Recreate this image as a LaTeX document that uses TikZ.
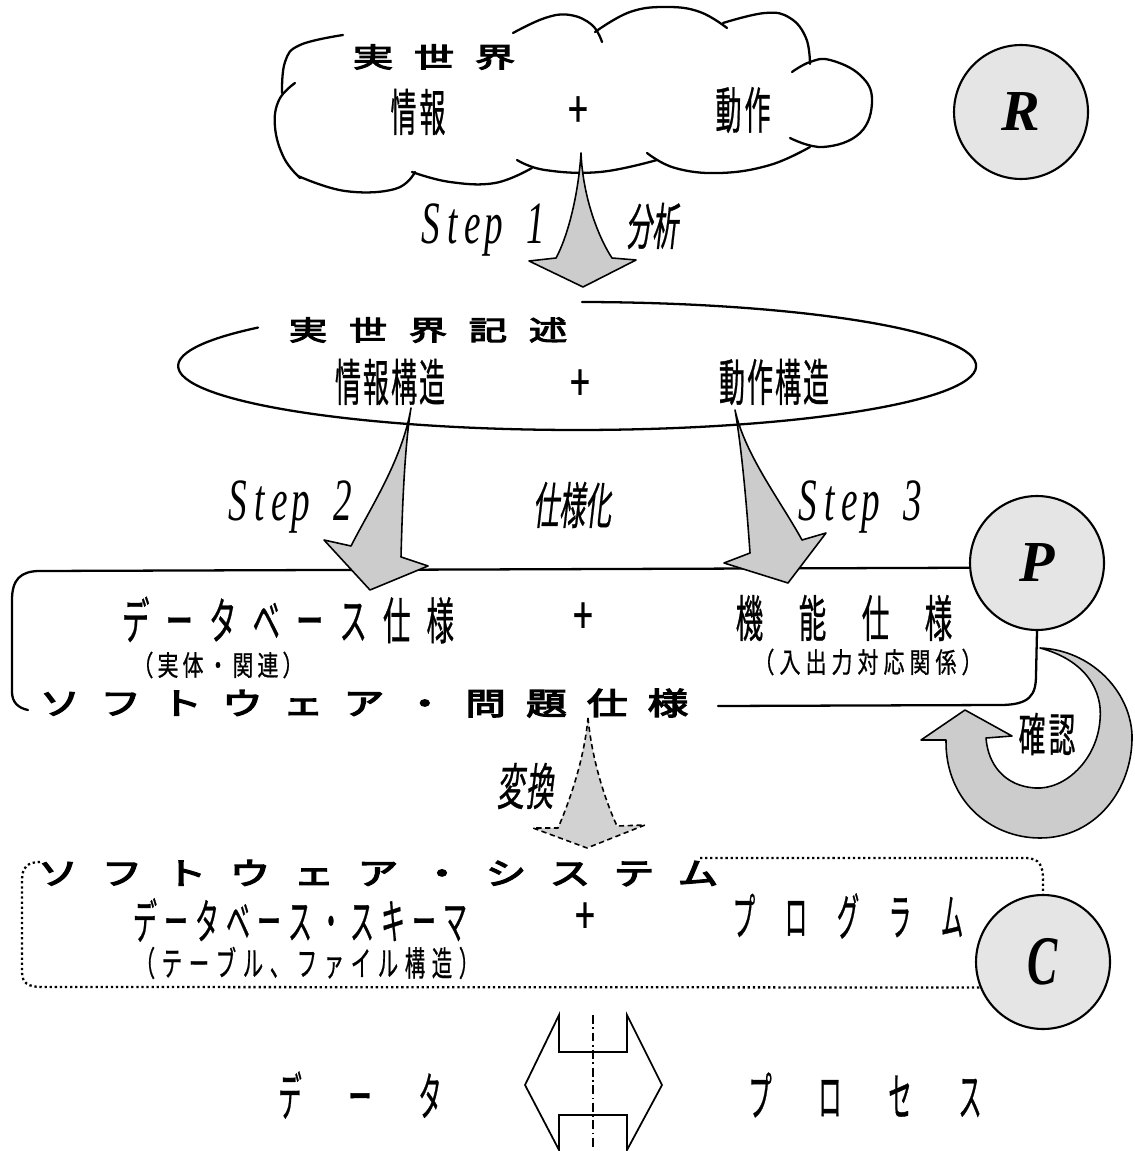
\documentclass[tikz,border=0pt]{standalone}
\usepackage{fontspec}
\usepackage{graphicx}
\newfontfamily\jp{Noto Sans CJK JP}[FakeBold=0.8]
\newfontfamily\jpb{Noto Sans CJK JP}[FakeBold=4]
\newfontfamily\jpi{Noto Sans CJK JP}[FakeSlant=0.22, FakeBold=0.8]
\newfontfamily\rmlat{Liberation Serif}

% one drawing unit
\newdimen\pxu \pxu=0.02cm
\newcommand\fsz[1]{\fontsize{#1\pxu}{#1\pxu}\selectfont}

% set each character in a box of fixed pitch, scaled horizontally/vertically
\makeatletter
\newcommand\spread[4]{\def\spr@w{#1}\def\spr@x{#2}\def\spr@y{#3}\spr@loop#4\relax}
\def\spr@loop#1{\ifx\relax#1\else\makebox[\spr@w]{\scalebox{\spr@x}[\spr@y]{#1}}\expandafter\spr@loop\fi}
\makeatother

\newcommand\steplbl[1]{{\rmlat\itshape\fsz{60}\spread{21\pxu}{0.62}{1}{Step}\hspace{22\pxu}\scalebox{0.62}[1]{#1}}}
\newcommand\circlet[1]{{\rmlat\bfseries\itshape\fsz{58}#1}}
\newcommand\plus{{\fsz{50}\scalebox{0.7}[1]{+}}}

\tikzset{
  outline/.style={line width=1.3pt, line cap=round, line join=round},
  grayarrow/.style={draw, line width=0.9pt, fill=gray!40, line join=round},
  dasharrow/.style={draw, densely dashed, line width=0.9pt, fill=gray!35, line join=round},
  markcircle/.style={circle, draw, line width=1.2pt, fill=gray!20, minimum size=2.68cm, inner sep=0pt},
  txt/.style={inner sep=0pt, font=\jp},
  dotline/.style={line width=1.3pt, dash pattern=on 1.3pt off 1.6pt},
}

\begin{document}
\begin{tikzpicture}[x=0.02cm, y=-0.02cm]
\useasboundingbox (0,0) rectangle (1134,1151);

% ---------- real world cloud ----------
\begin{scope}[outline]
  \draw plot[smooth, tension=0.7] coordinates {(343,35) (300,45) (285,62) (282,93)};
  \draw plot[smooth, tension=0.7] coordinates {(295,83) (279,100) (275,127) (284,158) (300,178)};
  \draw plot[smooth, tension=0.7] coordinates {(298,176) (345,191) (395,189) (415,172)};
  \draw plot[smooth, tension=0.7] coordinates {(412,172) (450,182) (495,183) (532,168)};
  \draw plot[smooth, tension=0.7] coordinates {(517,160) (545,170) (600,172) (657,160)};
  \draw plot[smooth, tension=0.7] coordinates {(647,153) (675,168) (720,173) (770,165) (810,147)};
  \draw plot[smooth, tension=0.7] coordinates {(790,138) (823,147) (860,133) (872,100) (860,75) (830,60) (810,62) (792,72)};
  \draw plot[smooth, tension=0.7] coordinates {(810,64) (806,38) (790,18) (765,13) (723,23)};
  \draw plot[smooth, tension=0.7] coordinates {(727,28) (700,12) (667,7) (630,12) (595,32)};
  \draw plot[smooth, tension=0.7] coordinates {(602,42) (592,25) (570,15) (545,18) (513,33)};
\end{scope}

% ---------- real world description ellipse ----------
\draw[outline] (582,302) arc[start angle=-89.3, end angle=216.9, x radius=399, y radius=64];

% ---------- circles ----------
\node[markcircle] (R) at (1021,112) {\circlet{R}};
\node[markcircle] (P) at (1037,563) {\circlet{P}};
\node[markcircle] (C) at (1043,962) {\scalebox{0.78}[1.2]{\circlet{C}}};

% ---------- software problem specification box ----------
\draw[outline] (P.184) -- (40,571) .. controls (20,571) and (12,580) .. (12,600)
  -- (12,692) .. controls (12,702) and (18,708) .. (28,710);
\draw[outline] (718,706) -- (1000,705) .. controls (1030,705) and (1036,695) .. (1036,675) -- (P.south);

% ---------- software system box ----------
\draw[dotline] (700,858) -- (1025,858) .. controls (1040,858) and (1043,866) .. (1043,880) -- (C.north);
\draw[dotline] (40,862) .. controls (27,862) and (22,868) .. (22,880) -- (22,972)
  .. controls (22,983) and (28,987) .. (42,987) -- (C.202);

% ---------- step arrows ----------
\draw[grayarrow] (581,153) .. controls (583,200) and (600,240) .. (612,258) -- (636,260)
  -- (583,287) -- (529,261) -- (556,258) .. controls (566,240) and (578,200) .. (581,153) -- cycle;
\draw[grayarrow] (411,408) .. controls (404,450) and (402,520) .. (401,557) -- (428,566)
  -- (370,590) -- (324,540) -- (351,546) .. controls (372,505) and (402,460) .. (411,408) -- cycle;
\draw[grayarrow] (735,410) .. controls (742,450) and (747,510) .. (750,553) -- (724,563)
  -- (788,583) -- (826,533) -- (802,540) .. controls (780,500) and (745,455) .. (735,410) -- cycle;
\draw[dasharrow] (588,718) .. controls (592,760) and (605,800) .. (617,826) -- (645,825)
  -- (587,848) -- (533,828) -- (558,828) .. controls (570,800) and (584,760) .. (588,718) -- cycle;

% ---------- confirmation U-turn arrow ----------
\draw[grayarrow] (1040,648) .. controls (1085,660) and (1103,690) .. (1100,720)
  .. controls (1097,760) and (1065,790) .. (1035,788)
  .. controls (1005,786) and (988,765) .. (986,738)
  -- (1012,736) -- (965,710) -- (921,740) -- (946,740)
  .. controls (945,800) and (990,838) .. (1040,838)
  .. controls (1095,838) and (1133,790) .. (1132,735)
  .. controls (1130,690) and (1090,650) .. (1040,648) -- cycle;

% ---------- data / process double arrow ----------
\draw[line width=1pt, line join=miter] (559,1015) -- (559,1052) -- (627,1052) -- (627,1015)
  -- (662,1085) -- (627,1150) -- (627,1115) -- (559,1115) -- (559,1150) -- (525,1085) -- cycle;
\draw[line width=0.7pt, dash pattern=on 5pt off 2pt on 1pt off 2pt] (593,1015) -- (593,1150);

% ---------- texts ----------
\node[txt] (cw) at (434,57) {\jpb\fsz{40}\spread{61\pxu}{1.0}{0.68}{実世界}};
\node[txt] (cinfo) at (418,112) {\fsz{50}\spread{29\pxu}{0.52}{1}{情報}};
\node[txt] (cplus) at (578,112) {\plus};
\node[txt] (cact) at (743,110) {\fsz{50}\spread{29\pxu}{0.52}{1}{動作}};

\node[txt] (s1) at (483,230) {\steplbl{1}};
\node[txt] (an) at (652,226) {\jpi\fsz{50}\spread{26\pxu}{0.52}{1}{分析}};

\node[txt] (ew) at (428,330) {\jpb\fsz{40}\spread{60\pxu}{0.95}{0.68}{実世界記述}};
\node[txt] (einfo) at (390,382) {\fsz{50}\spread{28\pxu}{0.52}{1}{情報構造}};
\node[txt] (eplus) at (580,385) {\plus};
\node[txt] (eact) at (774,382) {\fsz{50}\spread{28\pxu}{0.52}{1}{動作構造}};

\node[txt] (s2) at (290,507) {\steplbl{2}};
\node[txt] (spec) at (572,505) {\jpi\fsz{50}\spread{26\pxu}{0.52}{1}{仕様化}};
\node[txt] (s3) at (860,507) {\steplbl{3}};

\node[txt] (dbs) at (288,620) {\fsz{50}\spread{43.5\pxu}{0.55}{1}{データベース仕様}};
\node[txt] (bplus) at (583,618) {\plus};
\node[txt] (fns) at (844,618) {\fsz{50}\spread{63\pxu}{0.55}{1}{機能仕様}};
\node[txt] (dbn) at (218,665) {\fsz{28}\spread{25\pxu}{0.75}{1}{（実体・関連）}};
\node[txt] (fnn) at (868,662) {\fsz{28}\spread{26\pxu}{0.75}{1}{（入出力対応関係）}};
\node[txt] (sps) at (364,703) {\jpb\fsz{44}\spread{60.8\pxu}{0.92}{0.7}{ソフトウェア・問題仕様}};

\node[txt] (conv) at (525,786) {\jpi\fsz{50}\spread{29\pxu}{0.55}{1}{変換}};
\node[txt] (chk) at (1047,734) {\fsz{46}\spread{30\pxu}{0.58}{1}{確認}};

\node[txt] (sys) at (378,873) {\jpb\fsz{44}\spread{64\pxu}{0.92}{0.7}{ソフトウェア・システム}};
\node[txt] (sch) at (300,920) {\fsz{48}\spread{31\pxu}{0.5}{1}{データベース・スキーマ}};
\node[txt] (splus) at (585,918) {\plus};
\node[txt] (prg) at (848,916) {\fsz{50}\spread{52\pxu}{0.45}{1}{プログラム}};
\node[txt] (tbl) at (307,963) {\fsz{34}\spread{27\pxu}{0.6}{1}{（テーブル、ファイル構造）}};

\node[txt] (dat) at (360,1095) {\fsz{52}\spread{70\pxu}{0.45}{1}{データ}};
\node[txt] (prc) at (865,1095) {\fsz{52}\spread{70\pxu}{0.45}{1}{プロセス}};
\end{tikzpicture}
\end{document}
